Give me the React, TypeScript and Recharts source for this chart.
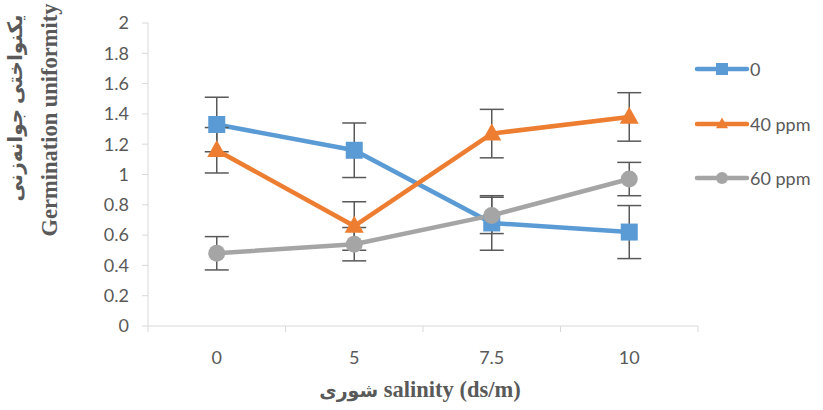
import React from 'react';
import { LineChart, Line, XAxis, YAxis, ErrorBar, Legend } from 'recharts';

// salinity levels (ds/m)
const salinity = ['0', '5', '7.5', '10'];
const seriesNames = ['0', '40 ppm', '60 ppm'];

const control = [1.33, 1.16, 0.68, 0.62];
const controlErr = [0.18, 0.18, 0.18, 0.175];
const ppm40 = [1.16, 0.66, 1.27, 1.38];
const ppm40Err = [0.15, 0.16, 0.16, 0.16];
const ppm60 = [0.48, 0.54, 0.73, 0.97];
const ppm60Err = [0.11, 0.11, 0.12, 0.11];

const yTicks = [0, 0.2, 0.4, 0.6, 0.8, 1, 1.2, 1.4, 1.6, 1.8, 2];

const data = salinity.map((s, i) => ({
  salinity: s,
  c0: control[i],
  e0: controlErr[i],
  c40: ppm40[i],
  e40: ppm40Err[i],
  c60: ppm60[i],
  e60: ppm60Err[i],
}));

const COLORS = ['#5B9BD5', '#ED7D31', '#A5A5A5'];
const AXIS = '#d9d9d9';
const TEXT = '#595959';
const TICK_FONT = 'Lato, "Open Sans", sans-serif';
const TITLE_FONT = '"Liberation Serif", "DejaVu Sans", serif';
const HALF_BAND = 68.75;

const Square = ({ cx, cy, size = 17, color }: any) => (
  <rect x={cx - size / 2} y={cy - size / 2} width={size} height={size} fill={color} />
);
const Triangle = ({ cx, cy, size = 19, color }: any) => {
  const h = size * 0.9;
  return (
    <polygon
      points={`${cx},${cy - h * 0.6} ${cx + size / 2},${cy + h * 0.4} ${cx - size / 2},${cy + h * 0.4}`}
      fill={color}
    />
  );
};
const Circle = ({ cx, cy, size = 17, color }: any) => <circle cx={cx} cy={cy} r={size / 2} fill={color} />;

const shapes = [Square, Triangle, Circle];

const XTick = (props: any) => {
  const { x, y, payload, index } = props;
  return (
    <g>
      <line x1={x - HALF_BAND} x2={x - HALF_BAND} y1={y} y2={y + 6} stroke={AXIS} />
      {index === salinity.length - 1 && (
        <line x1={x + HALF_BAND} x2={x + HALF_BAND} y1={y} y2={y + 6} stroke={AXIS} />
      )}
      <text x={x} y={y + 38} textAnchor="middle" fill={TEXT} fontSize={18} fontFamily={TICK_FONT}>
        {payload.value}
      </text>
    </g>
  );
};

const LegendBox = () => (
  <div style={{ display: 'flex', flexDirection: 'column' }}>
    {seriesNames.map((name, i) => {
      const Shape = shapes[i];
      return (
        <div key={name} style={{ display: 'flex', alignItems: 'center', height: 54.5 }}>
          <svg width={56} height={20}>
            <line x1={3} x2={53} y1={10} y2={10} stroke={COLORS[i]} strokeWidth={4.5} strokeLinecap="round" />
            <Shape cx={28} cy={10} size={12} color={COLORS[i]} />
          </svg>
          <span style={{ fontFamily: TICK_FONT, fontSize: 18, color: TEXT, whiteSpace: 'nowrap' }}>{name}</span>
        </div>
      );
    })}
  </div>
);

const keys = ['c0', 'c40', 'c60'];
const errKeys = ['e0', 'e40', 'e60'];

export default function App() {
  return (
    <div style={{ position: 'absolute', left: 0, top: 0, width: 823, height: 410, background: '#fff' }}>
      <LineChart width={823} height={410} data={data} margin={{ top: 23, right: 125, bottom: 54, left: 0 }}>
        <XAxis
          dataKey="salinity"
          height={30}
          padding={{ left: HALF_BAND, right: HALF_BAND }}
          axisLine={{ stroke: AXIS }}
          tickLine={false}
          tickSize={0}
          tickMargin={0}
          tick={<XTick />}
          interval={0}
        />
        <YAxis
          width={148}
          domain={[0, 2]}
          ticks={yTicks}
          interval={0}
          axisLine={{ stroke: AXIS }}
          tickLine={{ stroke: AXIS }}
          tickSize={6}
          tickMargin={13}
          tick={{ fill: TEXT, fontSize: 18, fontFamily: TICK_FONT }}
        />
        <Legend
          layout="horizontal"
          verticalAlign="middle"
          align="center"
          content={<LegendBox />}
          wrapperStyle={{ left: 694, top: 42, width: 129 }}
        />
        {keys.map((k, i) => {
          const Shape = shapes[i];
          return (
            <Line
              key={k}
              dataKey={k}
              name={seriesNames[i]}
              stroke={COLORS[i]}
              strokeWidth={4.5}
              isAnimationActive={false}
              dot={(p: any) => <Shape key={`${k}-${p.index}`} cx={p.cx} cy={p.cy} color={COLORS[i]} />}
              activeDot={false}
            >
              <ErrorBar dataKey={errKeys[i]} width={12} strokeWidth={1.5} stroke="#595959" direction="y" />
            </Line>
          );
        })}
      </LineChart>
      <div
        style={{
          position: 'absolute',
          left: 15,
          top: 108,
          transform: 'translate(-50%, -50%) rotate(-90deg)',
          whiteSpace: 'nowrap',
          fontFamily: TITLE_FONT,
          fontWeight: 'bold',
          fontSize: 20,
          color: TEXT,
          direction: 'rtl',
        }}
      >
        یکنواختی جوانه‌زنی
      </div>
      <div
        style={{
          position: 'absolute',
          left: 50,
          top: 120,
          transform: 'translate(-50%, -50%) rotate(-90deg)',
          whiteSpace: 'nowrap',
          fontFamily: TITLE_FONT,
          fontWeight: 'bold',
          fontSize: 22.5,
          color: TEXT,
        }}
      >
        Germination uniformity
      </div>
      <div
        style={{
          position: 'absolute',
          left: 420,
          top: 390,
          transform: 'translate(-50%, -50%)',
          whiteSpace: 'nowrap',
          fontFamily: TITLE_FONT,
          fontWeight: 'bold',
          color: TEXT,
        }}
      >
        <span style={{ fontSize: 19 }}>شوری</span>
        <span style={{ fontSize: 22.5 }}> salinity (ds/m)</span>
      </div>
    </div>
  );
}
